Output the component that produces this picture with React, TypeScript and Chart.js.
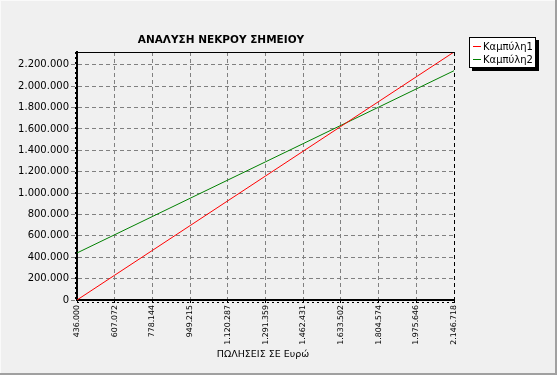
import React, { useEffect, useRef } from 'react';
import { Chart, registerables } from 'chart.js';

Chart.register(...registerables);

const categories = ['436.000', '607.072', '778.144', '949.215', '1.120.287', '1.291.359', '1.462.431', '1.633.502', '1.804.574', '1.975.646', '2.146.718'];
const curve1 = [0, 232000, 464000, 696000, 928000, 1160000, 1392000, 1624000, 1856000, 2088000, 2320000];
const curve2 = [440000, 610500, 781000, 951500, 1122000, 1292500, 1463000, 1633500, 1804000, 1974500, 2145000];
const seriesNames = ['Καμπύλη1', 'Καμπύλη2'];
const seriesColors = ['#FF0000', '#008000'];
const yTickValues = [0, 200000, 400000, 600000, 800000, 1000000, 1200000, 1400000, 1600000, 1800000, 2000000, 2200000];
const chartTitle = 'ΑΝΑΛΥΣΗ ΝΕΚΡΟΥ ΣΗΜΕΙΟΥ';
const xTitle = 'ΠΩΛΗΣΕΙΣ ΣΕ Ευρώ';
const yMax = 2320000;

const FONT = "'DejaVu Sans', Tahoma, Verdana, sans-serif";

function fmt(v: number): string {
  return Math.round(v).toString().replace(/\B(?=(\d{3})+(?!\d))/g, '.');
}

const decorPlugin = {
  id: 'decor',
  beforeDraw(chart: any) {
    const ctx = chart.ctx;
    const w = chart.width;
    const h = chart.height;
    ctx.save();
    ctx.fillStyle = '#F0F0F0';
    ctx.fillRect(0, 0, w, h);
    ctx.fillStyle = '#FAFAFA';
    ctx.fillRect(0, 0, 1, h);
    ctx.fillRect(0, 0, w, 1);
    ctx.fillStyle = '#A0A0A0';
    ctx.fillRect(w - 2, 0, 2, h);
    ctx.fillRect(0, h - 2, w, 2);
    ctx.restore();
  },
  afterDraw(chart: any) {
    const ctx = chart.ctx;
    const a = chart.chartArea;
    ctx.save();
    // top border
    ctx.strokeStyle = '#000';
    ctx.lineWidth = 1;
    ctx.beginPath();
    ctx.moveTo(a.left, a.top + 0.5);
    ctx.lineTo(a.right, a.top + 0.5);
    ctx.stroke();
    // minor tick texture below bottom axis and left of left axis
    ctx.setLineDash([2, 3]);
    ctx.beginPath();
    ctx.moveTo(a.left, a.bottom + 2.5);
    ctx.lineTo(a.right, a.bottom + 2.5);
    ctx.moveTo(a.left - 1.5, a.top);
    ctx.lineTo(a.left - 1.5, a.bottom);
    ctx.stroke();
    ctx.setLineDash([]);

    // title
    ctx.fillStyle = '#000';
    ctx.font = `bold 10.5px ${FONT}`;
    ctx.textAlign = 'center';
    ctx.textBaseline = 'middle';
    ctx.fillText(chartTitle, 221, 40);

    // x axis title
    ctx.font = `9.5px ${FONT}`;
    ctx.fillText(xTitle, 263, 355);

    // legend
    const lx = 469, ly = 37, lw = 67, lh = 31;
    ctx.fillStyle = '#000';
    ctx.fillRect(lx + 3, ly + 3, lw, lh);
    ctx.fillStyle = '#FFFFFF';
    ctx.fillRect(lx, ly, lw, lh);
    ctx.strokeStyle = '#000';
    ctx.lineWidth = 1;
    ctx.strokeRect(lx + 0.5, ly + 0.5, lw - 1, lh - 1);
    ctx.font = `10px ${FONT}`;
    ctx.textAlign = 'left';
    seriesNames.forEach((name, i) => {
      const y = ly + 9 + i * 13;
      ctx.strokeStyle = seriesColors[i];
      ctx.beginPath();
      ctx.moveTo(lx + 4, y + 0.5);
      ctx.lineTo(lx + 12, y + 0.5);
      ctx.stroke();
      ctx.fillStyle = '#000';
      ctx.fillText(name, lx + 14, y + 1);
    });
    ctx.restore();
  },
};

export default function App() {
  const ref = useRef<HTMLCanvasElement | null>(null);

  useEffect(() => {
    if (!ref.current) return;
    const chart = new Chart(ref.current, {
      type: 'line',
      data: {
        labels: categories,
        datasets: [
          {
            label: seriesNames[0],
            data: curve1,
            borderColor: seriesColors[0],
            borderWidth: 1,
            pointRadius: 0,
            fill: false,
            tension: 0,
          },
          {
            label: seriesNames[1],
            data: curve2,
            borderColor: seriesColors[1],
            borderWidth: 1,
            pointRadius: 0,
            fill: false,
            tension: 0,
          },
        ],
      },
      options: {
        responsive: false,
        animation: false,
        devicePixelRatio: 1,
        layout: { padding: { left: 0, top: 52, right: 103, bottom: 0 } },
        plugins: {
          legend: { display: false },
          title: { display: false },
          tooltip: { enabled: false },
        },
        scales: {
          x: {
            type: 'category',
            offset: false,
            grid: {
              color: (c: any) => (c.index === categories.length - 1 ? '#000000' : '#808080'),
              lineWidth: 1,
              drawTicks: true,
              tickLength: 3,
              tickColor: '#000',
              tickBorderDash: [],
            },
            border: { display: true, color: '#000', width: 2, dash: [4, 3] },
            ticks: {
              maxRotation: 90,
              minRotation: 90,
              autoSkip: false,
              padding: 2,
              color: '#000',
              font: { family: FONT, size: 7.8 },
            },
            afterFit(scale: any) {
              scale.height = 75;
            },
          },
          y: {
            min: 0,
            max: yMax,
            grid: {
              color: '#808080',
              lineWidth: 1,
              drawTicks: true,
              tickLength: 6,
              tickColor: '#808080',
              tickBorderDash: [4, 3],
            },
            border: { display: true, color: '#000', width: 2, dash: [4, 3] },
            ticks: {
              padding: 2,
              color: '#000',
              font: { family: FONT, size: 10 },
              callback: (v: any) => fmt(Number(v)),
            },
            afterBuildTicks(scale: any) {
              scale.ticks = yTickValues.map((v) => ({ value: v }));
            },
            afterFit(scale: any) {
              scale.width = 77;
            },
          },
        },
      },
      plugins: [decorPlugin],
    } as any);

    return () => chart.destroy();
  }, []);

  return (
    <div style={{ position: 'fixed', left: 0, top: 0, width: 557, height: 375 }}>
      <canvas ref={ref} width={557} height={375} style={{ display: 'block' }} />
    </div>
  );
}
